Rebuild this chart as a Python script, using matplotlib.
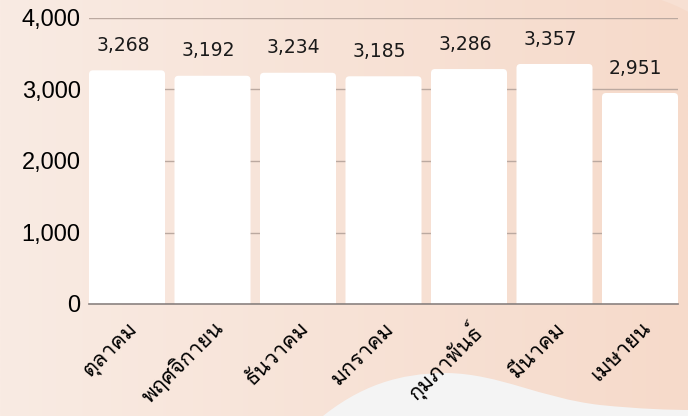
import numpy as np
import matplotlib
matplotlib.use("Agg")
import matplotlib.pyplot as plt
from matplotlib import font_manager
from matplotlib.patches import FancyBboxPatch, PathPatch
from matplotlib.path import Path
from matplotlib.ticker import FuncFormatter

months = ["ตุลาคม", "พฤศจิกายน", "ธันวาคม", "มกราคม", "กุมภาพันธ์", "มีนาคม", "เมษายน"]
values = [3268, 3192, 3234, 3185, 3286, 3357, 2951]
yticks = [0, 1000, 2000, 3000, 4000]


def find_thai_font():
    # look for an installed face that actually has Thai glyphs
    try:
        from fontTools.ttLib import TTFont
    except ImportError:
        return None
    for fe in font_manager.fontManager.ttflist:
        try:
            f = TTFont(fe.fname, fontNumber=0, lazy=True)
            cmap = f.getBestCmap()
            if cmap and ord("ก") in cmap and ord("ม") in cmap:
                return fe.name
        except Exception:
            continue
    return None


thai_font = find_thai_font()
thai_family = [thai_font, "DejaVu Sans"] if thai_font else ["DejaVu Sans"]

W, H = 688, 416
fig = plt.figure(figsize=(W / 100, H / 100), dpi=100)

#--- background: soft horizontal gradient + light wave at the bottom
bg = fig.add_axes([0, 0, 1, 1], zorder=-10)
grad = np.linspace(0, 1, 256)[None, :]
c0 = np.array([249, 235, 227]) / 255
c1 = np.array([246, 218, 202]) / 255
img = c0[None, None, :] * (1 - grad[..., None]) + c1[None, None, :] * grad[..., None]
bg.imshow(img, aspect="auto", extent=[0, W, H, 0])

wave_path = Path(
    [(318, 420), (360, 385), (400, 373), (447, 373),
     (500, 374), (540, 398), (600, 405),
     (640, 409), (670, 410), (692, 410),
     (692, 420), (318, 420)],
    [Path.MOVETO, Path.CURVE4, Path.CURVE4, Path.CURVE4,
     Path.CURVE4, Path.CURVE4, Path.CURVE4,
     Path.CURVE4, Path.CURVE4, Path.CURVE4,
     Path.LINETO, Path.CLOSEPOLY])
bg.add_patch(PathPatch(wave_path, facecolor="#f4f4f4", edgecolor="none"))
corner = Path([(655, -2), (675, 4), (692, 14), (692, -2), (655, -2)],
              [Path.MOVETO, Path.CURVE3, Path.CURVE3, Path.LINETO, Path.CLOSEPOLY])
bg.add_patch(PathPatch(corner, facecolor="#f7e0d3", edgecolor="none"))
bg.set_xlim(0, W)
bg.set_ylim(H, 0)
bg.axis("off")

#--- main axes
ax = fig.add_axes([89 / W, 1 - 304 / H, 589 / W, 286 / H])
ax.set_facecolor("none")

x = np.arange(len(months))
bw = 0.889
bars = ax.bar(x, values, width=bw, color="white", zorder=2)

# swap the plain bars for ones with rounded tops
px_x = 589 / (len(months) - 1 + bw)   # pixels per x unit
px_y = 286 / 4000                      # pixels per y unit
r = 4 / px_x
for b in bars:
    b.set_visible(False)
    p = FancyBboxPatch((b.get_x(), -80), b.get_width(), b.get_height() + 80,
                       boxstyle=f"round,pad=0,rounding_size={r}",
                       mutation_aspect=px_x / px_y,
                       facecolor="white", edgecolor="none", zorder=2)
    ax.add_patch(p)

for xi, v in zip(x, values):
    ax.annotate(f"{v:,}", (xi, v), xytext=(-3, 11), textcoords="offset points",
                ha="center", va="bottom", fontsize=13.5, color="#1a1a1a",
                family="DejaVu Sans")

ax.set_xlim(-bw / 2, len(months) - 1 + bw / 2)
ax.set_ylim(0, 4000)
ax.set_yticks(yticks)
ax.yaxis.set_major_formatter(FuncFormatter(lambda v, p: f"{int(v):,}"))
ax.grid(axis="y", color="#bba9a0", linewidth=1, zorder=0)
ax.set_axisbelow(True)
for s in ["top", "right", "left"]:
    ax.spines[s].set_visible(False)
ax.spines["bottom"].set_color("#8a8280")
ax.spines["bottom"].set_linewidth(1.2)
ax.spines["bottom"].set_zorder(3)
ax.tick_params(axis="both", length=0)
ax.tick_params(axis="y", labelsize=17, pad=6)
for lab in ax.get_yticklabels():
    lab.set_family(["Liberation Sans", "DejaVu Sans"])

ax.set_xticks(x)
ax.set_xticklabels(months, rotation=45, ha="right", va="top", rotation_mode="anchor",
                   fontsize=15.5, family=thai_family)
ax.tick_params(axis="x", pad=10)

fig.savefig("out.png", dpi=100)
